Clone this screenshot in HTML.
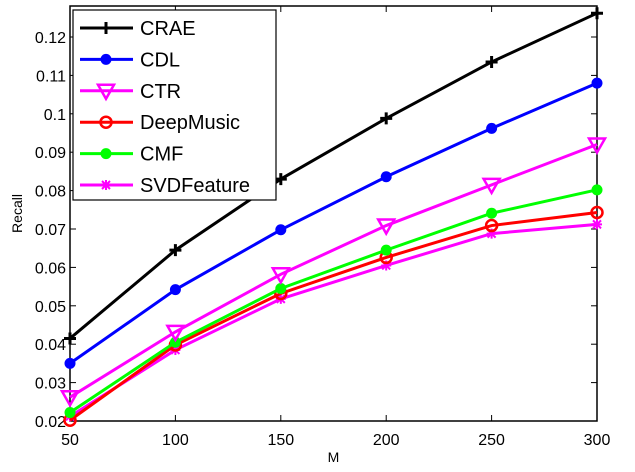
<!DOCTYPE html>
<html><head><meta charset="utf-8"><style>
body{margin:0;background:#fff}
svg text{font-family:"Liberation Sans",sans-serif}
</style></head><body>
<svg id="c" width="635" height="467" xmlns="http://www.w3.org/2000/svg"></svg>
<script>
const categories=[50,100,150,200,250,300];
const seriesNames=["CRAE","CDL","CTR","DeepMusic","CMF","SVDFeature"];
const crae=[0.0415,0.0645,0.083,0.0988,0.1135,0.1262];
const cdl=[0.035,0.0542,0.0698,0.0836,0.0962,0.108];
const ctr=[0.0262,0.0432,0.0582,0.0709,0.0815,0.092];
const deepmusic=[0.0202,0.0398,0.0532,0.0626,0.0709,0.0743];
const cmf=[0.0222,0.0405,0.0545,0.0645,0.0741,0.0802];
const svdfeature=[0.0212,0.0385,0.0518,0.0605,0.0688,0.0712];
const yTicks=[0.02,0.03,0.04,0.05,0.06,0.07,0.08,0.09,0.1,0.11,0.12];
const yTickLabels=["0.02","0.03","0.04","0.05","0.06","0.07","0.08","0.09","0.1","0.11","0.12"];
const xTickLabels=["50","100","150","200","250","300"];

const NS="http://www.w3.org/2000/svg";
const svg=document.getElementById('c');
const L=70,R=597,T=6,B=421;
const xs=v=>L+(v-50)/(250)*(R-L);
const ys=v=>B-(v-0.02)/0.01*38.4;
function mk(tag,at,parent){const e=document.createElementNS(NS,tag);for(const k in at)e.setAttribute(k,at[k]);(parent||svg).appendChild(e);return e;}

const frame=mk('rect',{x:L,y:T,width:R-L,height:B-T,fill:'none',stroke:'#000','stroke-width':1.5});



yTicks.forEach((v,i)=>{
  const y=ys(v);
  mk('line',{x1:L,x2:L+6,y1:y,y2:y,stroke:'#000'});
  mk('line',{x1:R,x2:R-6,y1:y,y2:y,stroke:'#000'});
  const t=mk('text',{x:L-4,y:y+6,'text-anchor':'end','font-size':16});
  t.textContent=yTickLabels[i];
  
  
});
categories.forEach((v,i)=>{
  const x=xs(v);
  mk('line',{x1:x,x2:x,y1:B,y2:B-6,stroke:'#000'});
  mk('line',{x1:x,x2:x,y1:T,y2:T+6,stroke:'#000'});
  const t=mk('text',{x:x,y:B+24,'text-anchor':'middle','font-size':16});
  t.textContent=xTickLabels[i];
  
  
});
const xt=mk('text',{x:(L+R)/2,y:462,'text-anchor':'middle','font-size':14});
xt.textContent='M';


const yt=mk('text',{x:0,y:0,'text-anchor':'middle','font-size':14,transform:'translate(22,'+((T+B)/2)+') rotate(-90)'});
yt.textContent='Recall';



function marker(g,type,x,y,color){
  if(type==='plus'){mk('path',{d:`M${x-6},${y}H${x+6}M${x},${y-6}V${y+6}`,stroke:color,'stroke-width':3},g);}
  else if(type==='dot'){mk('circle',{cx:x,cy:y,r:5.5,fill:color},g);}
  else if(type==='tri'){mk('path',{d:`M${x-8},${y-6}H${x+8}L${x},${y+8}Z`,fill:'none',stroke:color,'stroke-width':2.5},g);}
  else if(type==='ring'){mk('circle',{cx:x,cy:y,r:5.5,fill:'none',stroke:color,'stroke-width':2.5},g);}
  else if(type==='star'){mk('path',{d:`M${x-4},${y-4}L${x+4},${y+4}M${x-4},${y+4}L${x+4},${y-4}M${x-5},${y}H${x+5}M${x},${y-5}V${y+5}`,stroke:color,'stroke-width':2},g);}
}
const data=[crae,cdl,ctr,deepmusic,cmf,svdfeature];
const colors=['#000','#0000ff','#ff00ff','#ff0000','#00ff00','#ff00ff'];
const markers=['plus','dot','tri','ring','dot','star'];
const order=[5,3,4,2,1,0];
order.forEach(si=>{
  const g=mk('g',{});
  
  
  const pts=data[si].map((v,i)=>xs(categories[i])+','+ys(v)).join(' ');
  mk('polyline',{points:pts,fill:'none',stroke:colors[si],'stroke-width':3},g);
  data[si].forEach((v,i)=>marker(g,markers[si],xs(categories[i]),ys(v),colors[si]));
});

const lg=mk('g',{});


mk('rect',{x:73,y:10,width:203,height:190,fill:'#fff',stroke:'#000','stroke-width':1.2},lg);
seriesNames.forEach((n,i)=>{
  const y=28+i*31.4;
  const e=mk('g',{},lg);
  
  
  mk('line',{x1:80,x2:133,y1:y,y2:y,stroke:colors[i],'stroke-width':3},e);
  marker(e,markers[i],106,y,colors[i]);
  const t=mk('text',{x:140,y:y+7,'font-size':20},e);
  t.textContent=n;
});
</script>
</body></html>
